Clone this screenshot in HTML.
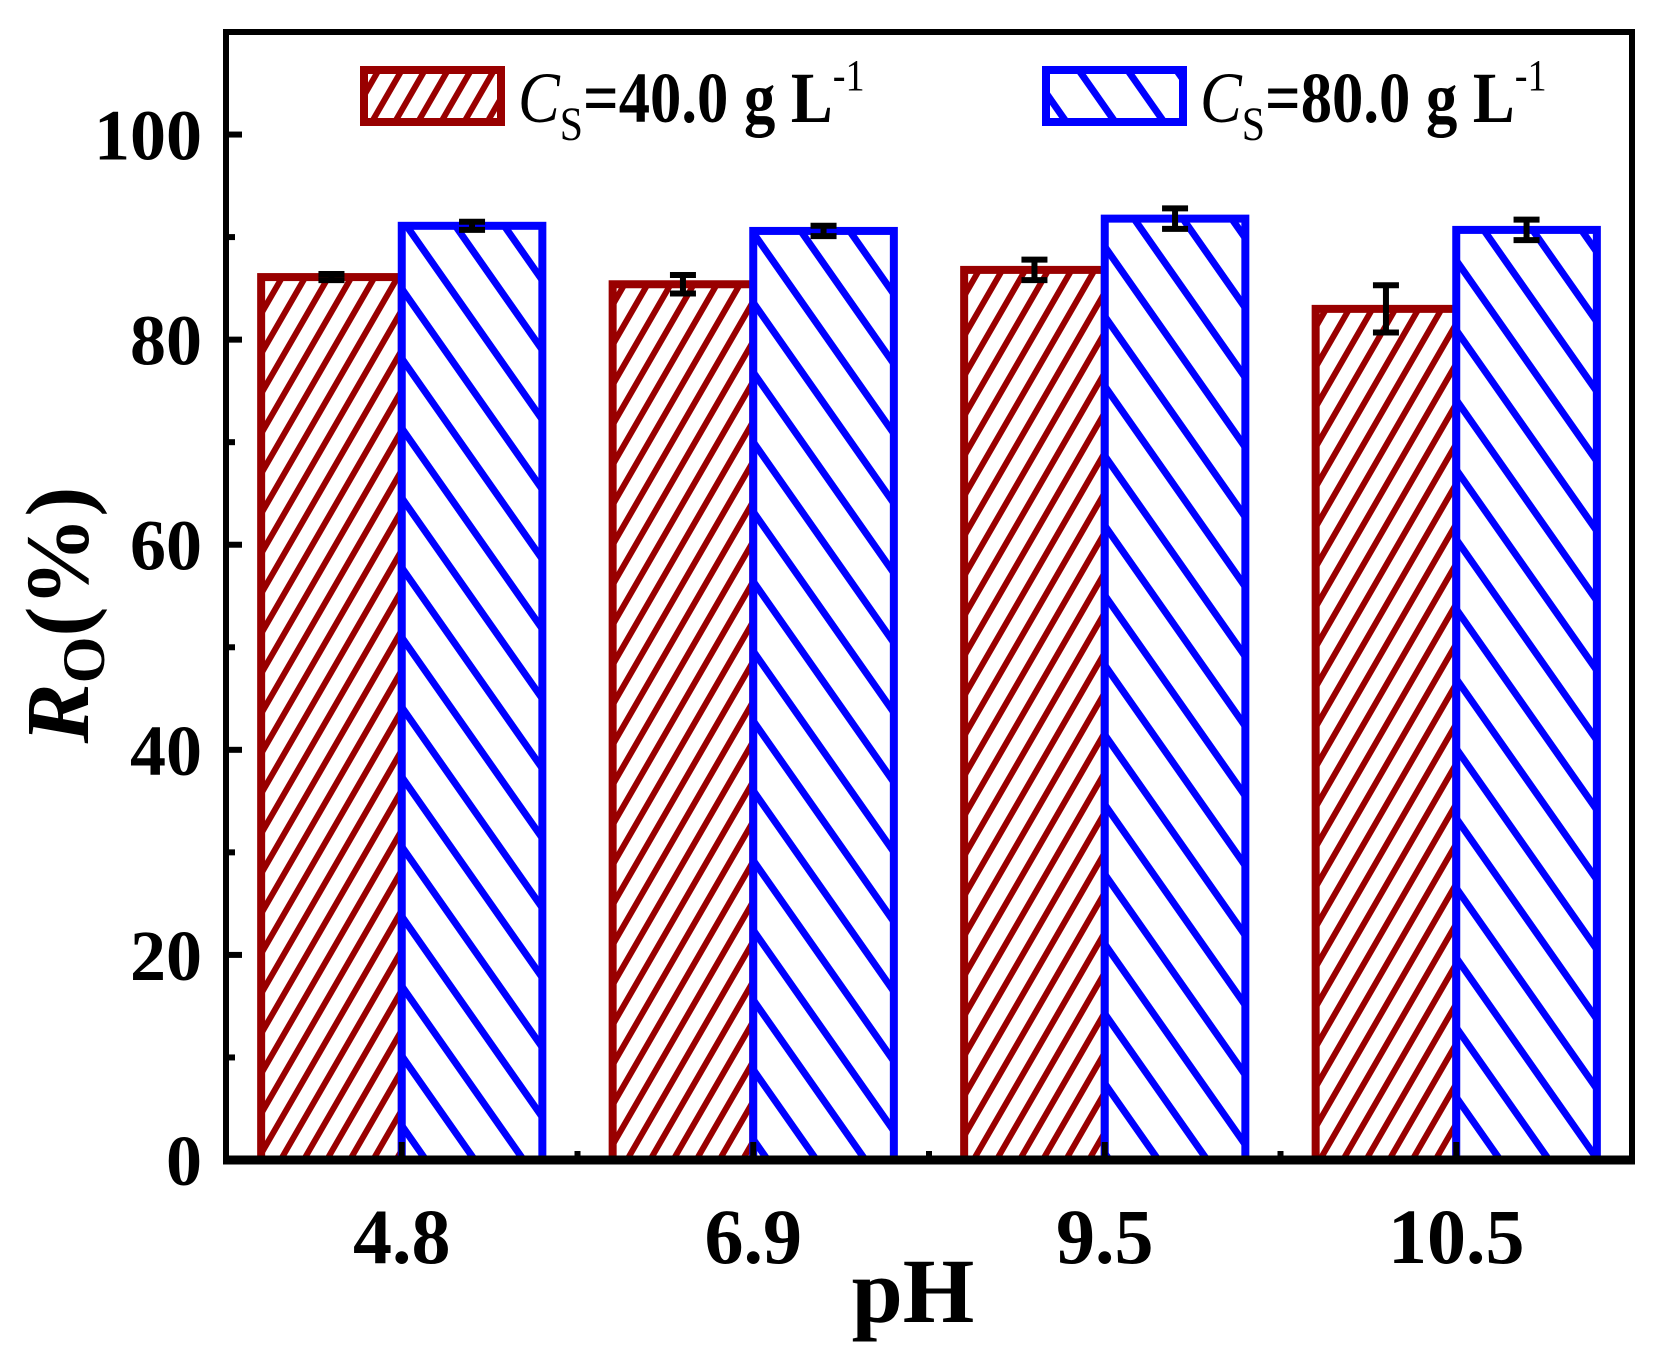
<!DOCTYPE html>
<html><head><meta charset="utf-8"><style>
html,body{margin:0;padding:0;background:#fff;}
svg{display:block;font-family:"Liberation Serif",serif;font-weight:bold;}
</style></head><body>
<svg id="chart" width="1656" height="1351" viewBox="0 0 1656 1351" xmlns="http://www.w3.org/2000/svg">
<defs>
<pattern id="hatchRed" patternUnits="userSpaceOnUse" width="20" height="20" patternTransform="rotate(30)">
<rect width="20" height="20" fill="#fff"/><rect x="0" y="0" width="6" height="20" fill="#990000"/>
</pattern>
<pattern id="hatchBlue" patternUnits="userSpaceOnUse" width="40" height="40" patternTransform="rotate(-35)">
<rect width="40" height="40" fill="#fff"/><rect x="0" y="0" width="7" height="40" fill="#0000ff"/>
</pattern>
</defs>
<g id="plot"></g>
</svg>
<script>
const categories = ["4.8", "6.9", "9.5", "10.5"];
const series1 = [86.1, 85.4, 86.8, 83.0];
const err1 = [0.3, 0.9, 1.0, 2.3];
const series2 = [91.1, 90.6, 91.8, 90.7];
const err2 = [0.4, 0.5, 1.0, 1.0];
const yTicks = [0, 20, 40, 60, 80, 100];

const NS = "http://www.w3.org/2000/svg";
const L = 226, R = 1632, T = 32, B = 1160;
const yMax = 110;
const yS = v => B - v / yMax * (B - T);
const step = (R - L) / categories.length;
const xC = i => L + step * (i + 0.5);
const bw = step * 0.4;
const g = document.getElementById('plot');
function mk(tag, attrs, parent) {
  const e = document.createElementNS(NS, tag);
  for (const k in attrs) e.setAttribute(k, attrs[k]);
  (parent || g).appendChild(e);
  return e;
}
function drawBar(i, v, er, fill, stroke, dx, name) {
  const x = xC(i) + dx;
  const r = mk('rect', {x: x, y: yS(v), width: bw, height: B - yS(v), fill: fill, stroke: stroke, 'stroke-width': 8});
  
  
  const cx = x + bw / 2;
  const eg = mk('g', {stroke: '#000', 'stroke-width': 6});
  
  
  mk('line', {x1: cx, x2: cx, y1: yS(v + er), y2: yS(v - er)}, eg);
  mk('line', {x1: cx - 13, x2: cx + 13, y1: yS(v + er), y2: yS(v + er)}, eg);
  mk('line', {x1: cx - 13, x2: cx + 13, y1: yS(v - er), y2: yS(v - er)}, eg);
}
categories.forEach((c, i) => {
  drawBar(i, series1[i], err1[i], 'url(#hatchRed)', '#990000', -bw, 'bar-cs40');
  drawBar(i, series2[i], err2[i], 'url(#hatchBlue)', '#0000ff', 0, 'bar-cs80');
});
const fr = mk('rect', {x: L, y: T, width: R - L, height: B - T, fill: 'none', stroke: '#000', 'stroke-width': 6});


mk('line', {x1: L - 3, x2: R + 3, y1: B, y2: B, stroke: '#000', 'stroke-width': 9});
for (let v = 0; v <= 100; v += 10) {
  const major = v % 20 === 0;
  mk('line', {x1: L, x2: L + (major ? 16 : 9), y1: yS(v), y2: yS(v), stroke: '#000', 'stroke-width': 6});
}
yTicks.forEach(v => {
  const t = mk('text', {x: 202, y: yS(v) + 25, 'text-anchor': 'end', 'font-size': 72});
  t.textContent = v;
  
  
});
categories.forEach((c, i) => {
  mk('line', {x1: xC(i), x2: xC(i), y1: B, y2: B - 18, stroke: '#000', 'stroke-width': 6});
  if (i > 0) mk('line', {x1: L + step * i, x2: L + step * i, y1: B, y2: B - 9, stroke: '#000', 'stroke-width': 6});
  const t = mk('text', {x: xC(i), y: B + 103, 'text-anchor': 'middle', 'font-size': 78});
  t.textContent = c;
  
  
});
</script>
<svg style="position:absolute;left:0;top:0" width="1656" height="1351" xmlns="http://www.w3.org/2000/svg">
<g>
<rect x="364" y="70" width="137" height="52" fill="url(#hatchRed)" stroke="#990000" stroke-width="8"/>
<text transform="translate(518,122) scale(0.87,1)" font-size="72" font-family="Liberation Serif, serif" font-weight="bold"><tspan font-style="italic" font-weight="normal">C</tspan><tspan font-size="48" font-weight="normal" dy="18">S</tspan><tspan dy="-18">=40.0 g L</tspan><tspan font-size="44" font-weight="normal" dy="-32">-1</tspan></text>
<rect x="1046" y="70" width="137" height="52" fill="url(#hatchBlue)" stroke="#0000ff" stroke-width="8"/>
<text transform="translate(1200,122) scale(0.87,1)" font-size="72" font-family="Liberation Serif, serif" font-weight="bold"><tspan font-style="italic" font-weight="normal">C</tspan><tspan font-size="48" font-weight="normal" dy="18">S</tspan><tspan dy="-18">=80.0 g L</tspan><tspan font-size="44" font-weight="normal" dy="-32">-1</tspan></text>
</g>
<text x="913" y="1322" text-anchor="middle" font-size="92" font-family="Liberation Serif, serif" font-weight="bold">pH</text>
<text transform="translate(88,615) rotate(-90)" text-anchor="middle" font-size="90" font-family="Liberation Serif, serif" font-weight="bold"><tspan font-style="italic">R</tspan><tspan font-size="60" dy="16">O</tspan><tspan dy="-16">(%)</tspan></text>
</svg>
</body></html>
